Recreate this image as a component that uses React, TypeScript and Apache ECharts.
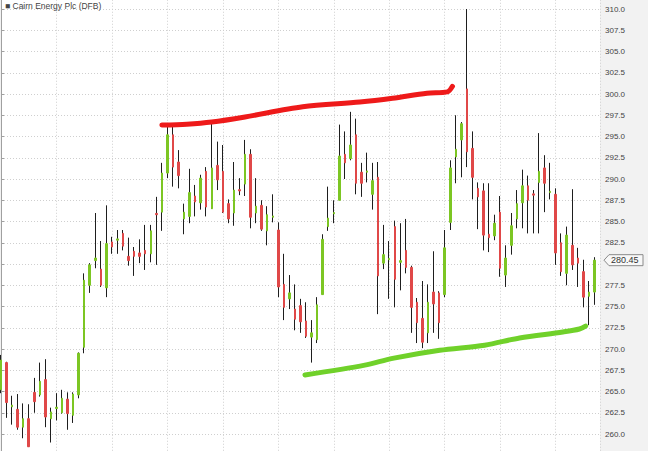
import React, { useEffect, useRef } from "react";
import * as echarts from "echarts";

const title = "■ Cairn Energy Plc (DFB)";
const lastPrice = 280.45;
const yMin = 257.5;
const yMax = 312.5;
const yStep = 2.5;
const labelMin = 260;
const labelMax = 310;
const dayCount = 108;

const opens = [
  265.2, 268.4, 263.2, 262.9, 260.8, 261.8, 264.9, 264.6, 266.4, 261.8,
  263.0, 262.5, 264.1, 262.2, 264.6, 270.2, 277.5, 280.4, 279.4, 277.2,
  282.6, 282.8, 283.6, 280.9, 281.5, 281.3, 281.6, 281.2, 285.95, 286.1,
  290.7, 295.2, 292.0, 285.3, 285.6, 288.0, 287.2, 290.9, 286.5, 291.6,
  290.9, 287.1, 286.0, 288.75, 289.4, 292.9, 286.0, 286.9, 283.9, 285.5,
  284.0, 277.6, 275.9, 274.7, 275.1, 273.3, 271.4, 271.1, 276.4, 284.4,
  285.9, 287.5, 292.9, 292.4, 295.2, 290.8, 290.8, 288.2, 290.2, 280.1,
  280.5, 284.4, 280.2, 281.6, 279.6, 275.5, 273.6, 271.9, 276.7, 276.6,
  276.4, 284.9, 292.6, 294.6, 300.6, 293.6, 288.9, 288.6, 283.5, 283.3,
  286.1, 278.7, 282.2, 285.3, 287.2, 289.2, 288.25, 289.6, 291.3, 288.4,
  288.2, 282.5, 278.9, 282.2, 280.7, 279.1, 276.2, 276.7,
];
const closes = [
  268.7, 263.7, 263.4, 260.8, 261.8, 258.5, 263.8, 266.2, 262.0, 262.6,
  263.15, 264.2, 262.4, 264.7, 269.5, 278.1, 279.9, 280.7, 277.5, 282.4,
  282.0, 282.95, 282.1, 280.4, 280.9, 280.9, 281.2, 283.9, 285.8, 290.7,
  295.2, 291.4, 290.4, 286.1, 288.4, 287.3, 290.1, 286.7, 291.3, 289.9,
  286.1, 285.3, 288.7, 288.6, 292.9, 285.5, 286.8, 284.1, 285.8, 285.65,
  277.3, 274.9, 276.6, 273.5, 273.2, 271.5, 271.9, 275.2, 282.9, 285.4,
  286.05, 292.7, 291.9, 294.0, 289.5, 289.5, 290.95, 289.8, 278.6, 281.1,
  280.65, 278.2, 280.4, 279.6, 274.9, 273.1, 270.8, 275.5, 275.3, 273.1,
  281.9, 291.3, 293.5, 296.5, 293.2, 290.2, 287.9, 283.4, 283.1, 284.8,
  279.5, 280.7, 284.5, 287.1, 289.2, 287.5, 288.1, 290.9, 289.5, 288.55,
  281.3, 279.1, 283.4, 279.9, 280.1, 276.1, 276.7, 280.45,
];
const lows = [
  264.8, 261.9, 261.1, 260.5, 259.5, 258.5, 262.5, 264.4, 260.8, 259.0,
  261.6, 262.4, 260.5, 261.3, 264.2, 269.5, 276.6, 279.5, 277.3, 276.1,
  281.2, 281.2, 281.6, 279.8, 278.6, 280.1, 279.3, 280.2, 279.9, 283.9,
  290.1, 289.1, 288.9, 283.5, 284.8, 285.6, 286.4, 285.6, 286.5, 288.7,
  286.0, 284.8, 284.5, 288.1, 288.0, 284.2, 284.8, 283.9, 282.2, 284.9,
  276.1, 273.4, 274.7, 272.2, 271.9, 271.3, 268.4, 270.7, 276.4, 283.9,
  284.8, 287.5, 290.0, 292.2, 288.2, 287.9, 289.6, 286.4, 274.1, 279.4,
  275.9, 274.9, 276.9, 278.9, 271.9, 270.7, 270.1, 270.7, 271.9, 271.2,
  276.1, 284.0, 289.5, 290.2, 291.4, 287.6, 284.1, 281.6, 281.4, 282.8,
  278.5, 277.3, 281.1, 284.2, 284.2, 283.6, 283.6, 283.6, 286.1, 287.6,
  279.9, 278.6, 277.5, 279.3, 277.3, 274.9, 272.8, 275.2,
];
const highs = [
  269.3, 268.5, 264.5, 264.7, 263.6, 263.5, 266.6, 268.4, 268.8, 263.1,
  264.8, 265.2, 264.9, 264.9, 269.6, 278.9, 280.1, 286.0, 282.7, 286.9,
  283.2, 284.0, 284.0, 283.1, 282.0, 282.9, 284.6, 284.6, 287.9, 291.9,
  296.4, 296.4, 293.4, 287.1, 291.2, 289.3, 290.5, 291.4, 296.5, 294.4,
  294.0, 287.6, 292.0, 290.1, 294.6, 293.5, 290.1, 287.5, 286.8, 288.2,
  284.9, 281.2, 278.7, 277.6, 275.9, 275.5, 273.4, 276.1, 283.5, 289.1,
  287.5, 296.4, 295.6, 297.9, 297.1, 291.9, 293.1, 291.9, 292.0, 284.6,
  282.7, 285.1, 284.8, 285.3, 279.8, 276.0, 278.0, 277.6, 281.5, 276.8,
  284.0, 292.2, 297.5, 296.7, 310.0, 295.6, 289.6, 289.5, 289.5, 285.8,
  288.0, 282.2, 286.0, 288.7, 291.1, 290.4, 288.7, 295.4, 292.8, 291.9,
  288.9, 283.6, 284.4, 288.8, 281.9, 280.5, 278.0, 280.8,
];

// hand-drawn trend annotations: [day index, price]
const redTrend = [
  [29.0, 296.35], [33.5, 296.45], [38.0, 296.7], [44.0, 297.3], [54.4, 298.5],
  [64.7, 299.05], [70.6, 299.5], [76.8, 300.1], [80.5, 300.25], [81.4, 300.9],
];
const greenTrend = [
  [54.8, 266.95], [65.6, 268.1], [70.6, 268.9], [79.1, 269.85], [87.2, 270.45],
  [93.5, 271.3], [101.3, 272.0], [104.3, 272.35], [105.4, 272.7],
];

const UP = "#7cc623";
const DOWN = "#e04848";
const WICK = "#1e1e1e";
const SHIFT = 13; // chart div starts above the page so the plot can bleed past its top

export default function App() {
  const ref = useRef<HTMLDivElement>(null);
  useEffect(() => {
    document.body.style.margin = "0";
    document.body.style.overflow = "hidden";
    document.documentElement.style.overflow = "hidden";
    const chart = echarts.init(ref.current!, null, { renderer: "svg" });
    const wicks = opens.map((o, i) => [i, o, closes[i], lows[i], highs[i]]);
    const bodies = opens.map((o, i) => [
      i,
      o,
      closes[i],
      Math.min(o, closes[i]),
      Math.max(o, closes[i]),
    ]);
    chart.setOption({
      animation: false,
      backgroundColor: "#f2f2f2",
      grid: {
        left: 1,
        right: 48,
        top: 0.75,
        height: 467.5,
        show: true,
        backgroundColor: "#ffffff",
        borderWidth: 0,
      },
      xAxis: {
        type: "value",
        min: 0,
        max: dayCount,
        interval: 10,
        axisLine: { show: false },
        axisTick: { show: false },
        axisLabel: { show: false },
        splitLine: {
          show: true,
          lineStyle: { color: "#cfcfcf", type: [1, 2], width: 1 },
        },
      },
      yAxis: {
        type: "value",
        position: "right",
        min: yMin,
        max: yMax,
        interval: yStep,
        axisLine: { show: true, lineStyle: { color: "#a0a0a0", width: 1 } },
        axisTick: { show: true, length: 3, lineStyle: { color: "#a0a0a0" } },
        axisLabel: {
          margin: 5,
          fontSize: 8,
          fontFamily: "Arial, Liberation Sans, sans-serif",
          color: "#444",
          formatter: (v: number) =>
            v >= labelMin && v <= labelMax && Math.abs(v - lastPrice) > 1
              ? v.toFixed(1)
              : "",
        },
        splitLine: {
          show: true,
          lineStyle: { color: "#cfcfcf", type: [1, 2], width: 1 },
        },
      },
      series: [
        {
          type: "candlestick",
          data: wicks,
          encode: { x: 0, y: [1, 2, 3, 4] },
          barWidth: 1,
          itemStyle: {
            color: WICK,
            color0: WICK,
            borderColor: WICK,
            borderColor0: WICK,
            borderWidth: 1,
          },
          z: 2,
        },
        {
          type: "candlestick",
          data: bodies,
          encode: { x: 0, y: [1, 2, 3, 4] },
          barWidth: 2,
          itemStyle: {
            color: UP,
            color0: DOWN,
            borderColor: UP,
            borderColor0: DOWN,
            borderWidth: 1,
          },
          z: 3,
        },
        {
          type: "line",
          data: redTrend,
          smooth: 0.3,
          showSymbol: false,
          clip: false,
          lineStyle: { color: "#ee1a1a", width: 5, cap: "round", join: "round" },
          z: 5,
        },
        {
          type: "line",
          data: greenTrend,
          smooth: 0.3,
          showSymbol: false,
          clip: false,
          lineStyle: { color: "#70d12a", width: 5, cap: "round", join: "round" },
          z: 5,
        },
      ],
    });

    const py = chart.convertToPixel({ yAxisIndex: 0 }, lastPrice) as number;
    const ax = chart.convertToPixel({ xAxisIndex: 0 }, dayCount) as number;
    chart.setOption({
      graphic: [
        {
          type: "text",
          x: 5,
          y: SHIFT + 1,
          z: 10,
          style: {
            text: title,
            fontSize: 8.5,
            fontFamily: "Arial, Liberation Sans, DejaVu Sans, sans-serif",
            fill: "#444",
            verticalAlign: "top",
          },
        },
        {
          type: "polygon",
          z: 10,
          shape: {
            points: [
              [ax + 4, py],
              [ax + 9, py - 5.5],
              [ax + 43, py - 5.5],
              [ax + 43, py + 5.5],
              [ax + 9, py + 5.5],
            ],
          },
          style: { fill: "#f8f8f8", stroke: "#8a8a8a", lineWidth: 1 },
        },
        {
          type: "text",
          x: ax + 11,
          y: py,
          z: 11,
          style: {
            text: lastPrice.toFixed(2),
            fontSize: 9,
            fontFamily: "Arial, Liberation Sans, sans-serif",
            fill: "#333",
            verticalAlign: "middle",
          },
        },
      ],
    });
    return () => chart.dispose();
  }, []);
  return (
    <div
      ref={ref}
      style={{
        position: "absolute",
        left: 0,
        top: -SHIFT,
        width: 648,
        height: 470,
      }}
    />
  );
}
